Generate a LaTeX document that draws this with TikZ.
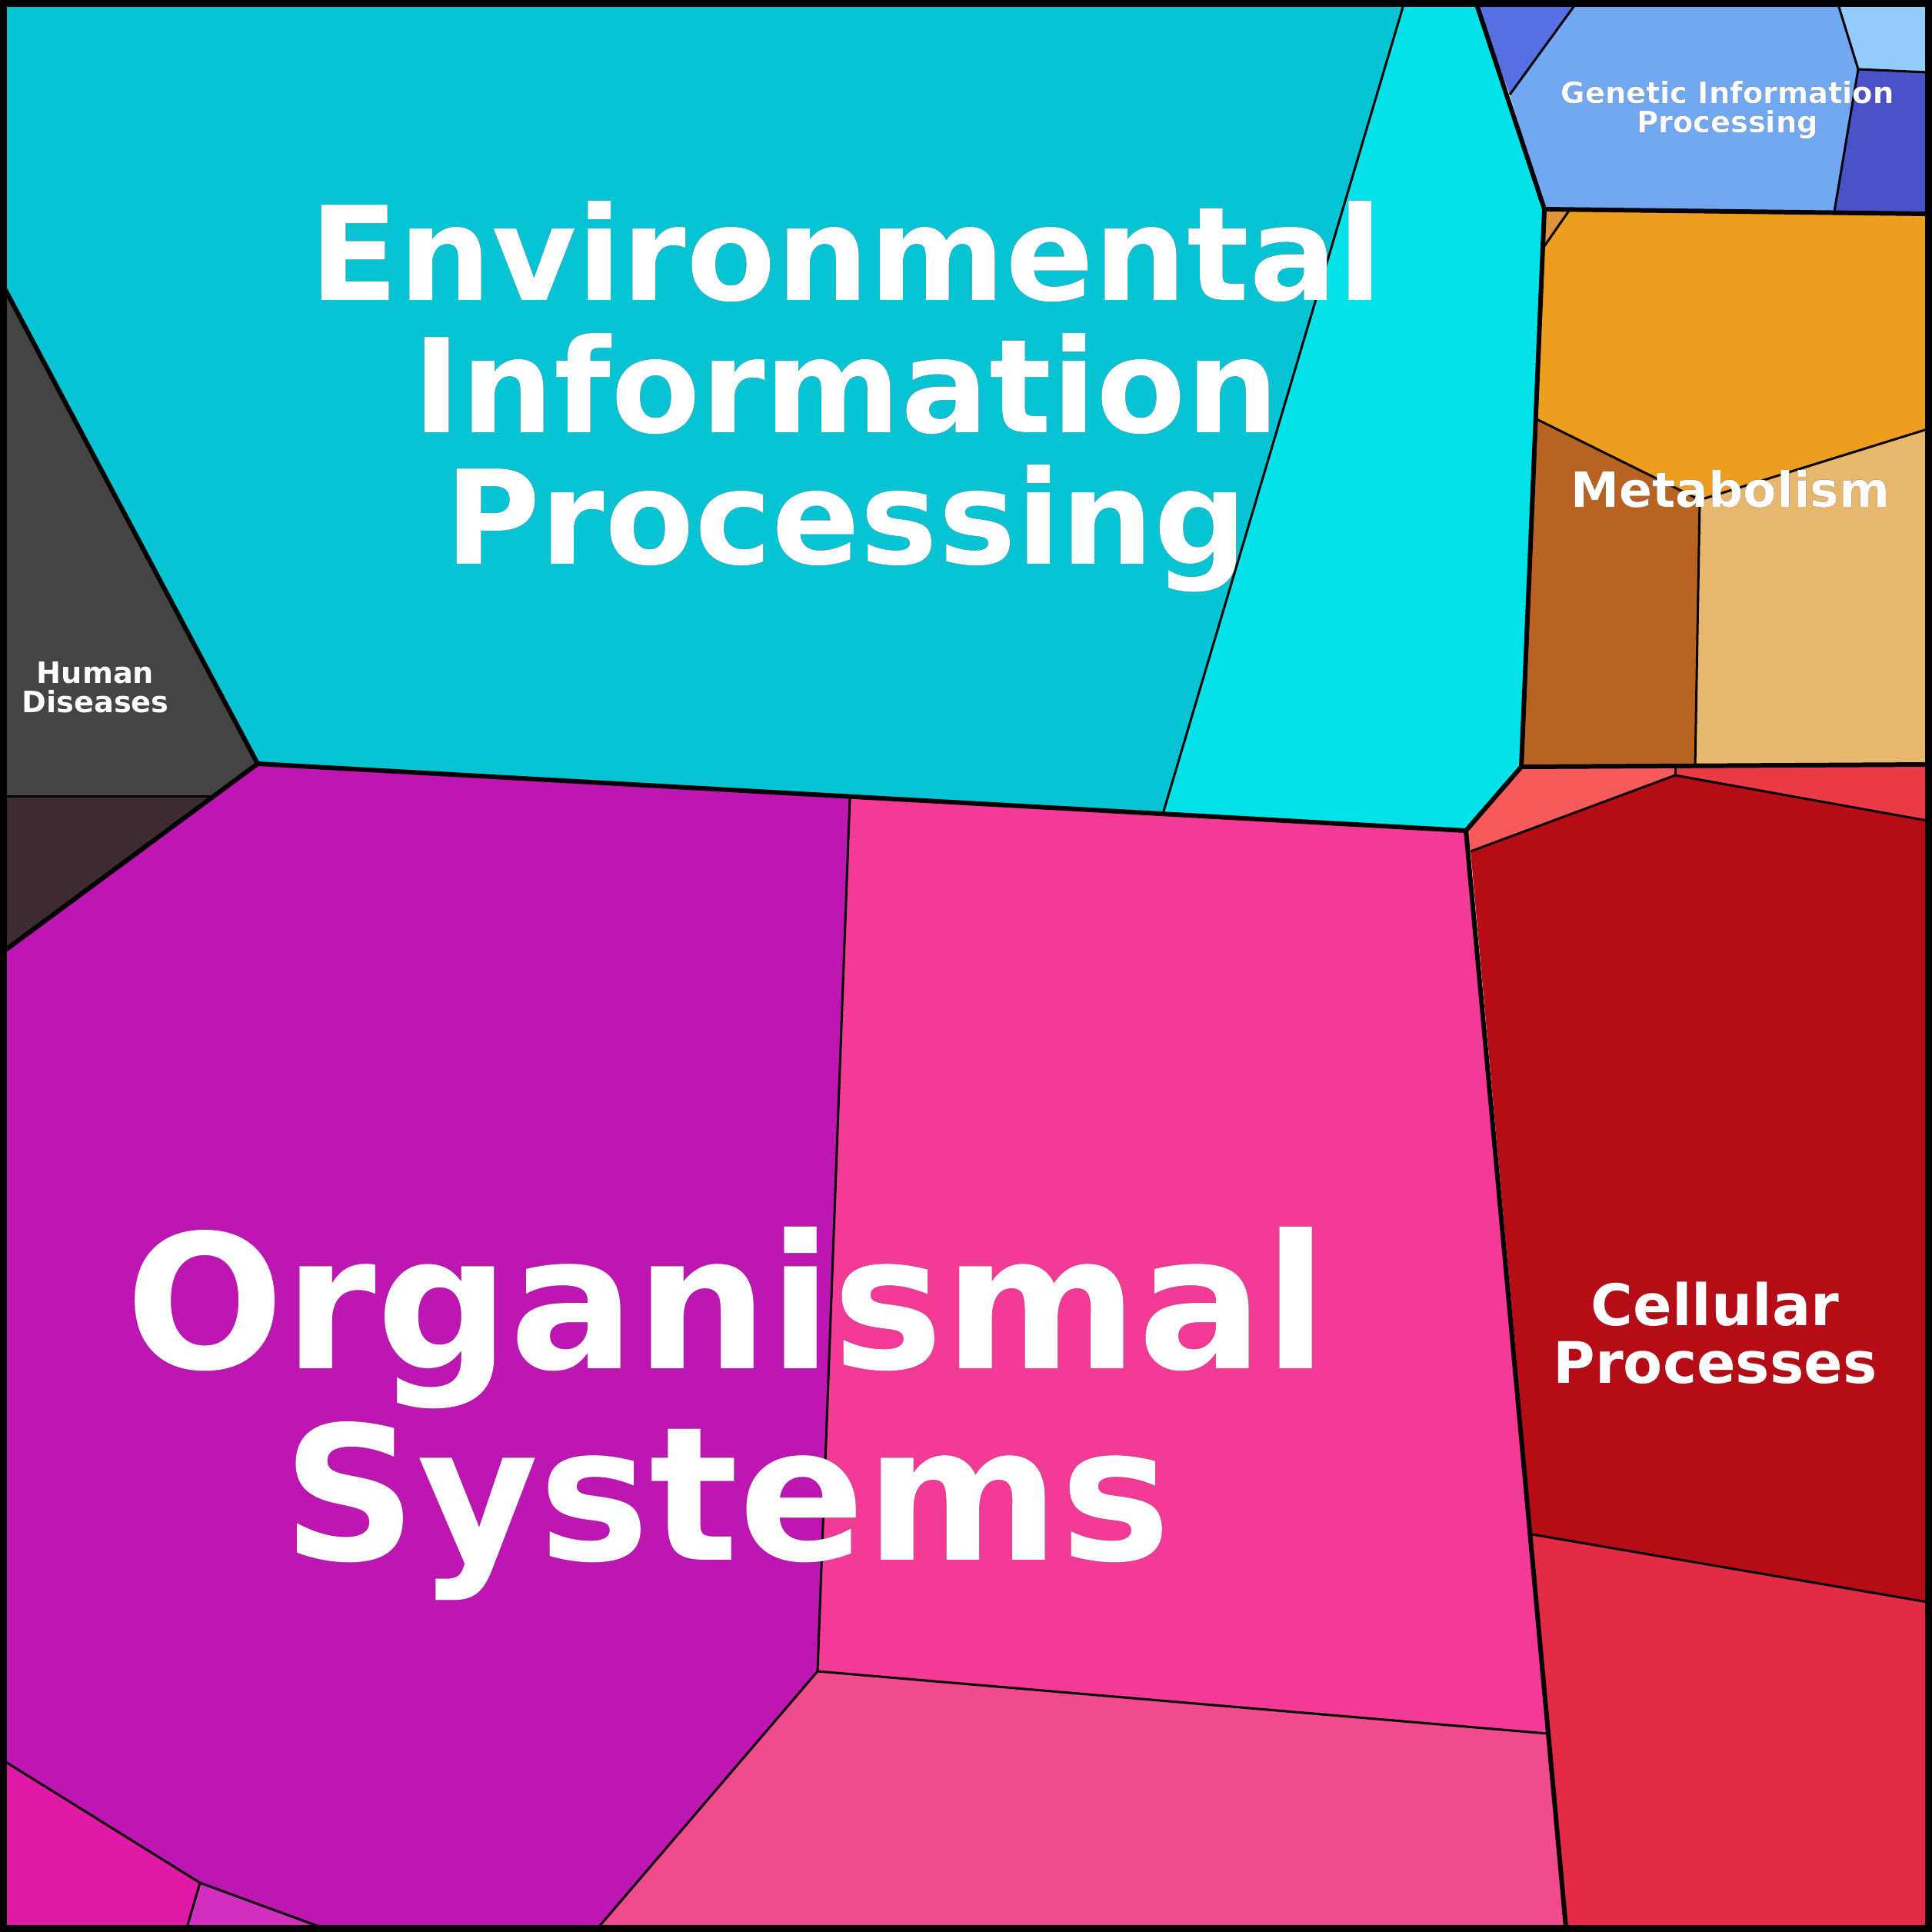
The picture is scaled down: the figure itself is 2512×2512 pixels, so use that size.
\documentclass[tikz,border=0pt]{standalone}
\usepackage{fontspec}
\setmainfont{DejaVu Sans}
\usepackage[outline]{contour}
\contourlength{0.4pt}
\definecolor{envA}{HTML}{06C4D4}
\definecolor{envB}{HTML}{03E1E9}
\definecolor{humA}{HTML}{454343}
\definecolor{humB}{HTML}{3E2A33}
\definecolor{orgA}{HTML}{BD16B2}
\definecolor{orgB}{HTML}{F43A97}
\definecolor{orgC}{HTML}{F04C8D}
\definecolor{orgD}{HTML}{E01AA6}
\definecolor{orgE}{HTML}{D22EBF}
\definecolor{celA}{HTML}{F75A5A}
\definecolor{celB}{HTML}{EA3A45}
\definecolor{celC}{HTML}{B60C15}
\definecolor{celD}{HTML}{E32B45}
\definecolor{metA}{HTML}{DE943F}
\definecolor{metB}{HTML}{EE9E1E}
\definecolor{metC}{HTML}{B86322}
\definecolor{metD}{HTML}{E8B76E}
\definecolor{genA}{HTML}{5670E4}
\definecolor{genB}{HTML}{72A8F2}
\definecolor{genC}{HTML}{93CCFB}
\definecolor{genD}{HTML}{4A52C8}
\tikzset{
  cell/.style={draw=black, line width=0.85pt, line join=round},
  major/.style={draw=black, line width=1.7pt, line join=round},
  lbl/.style={text=white, align=center, font=\bfseries, inner sep=0pt}
}
\newcommand{\ctxt}[1]{\contour{black}{#1}}
\begin{document}
\begin{tikzpicture}[x=0.01cm,y=-0.01cm]
\useasboundingbox (0,0) rectangle (2512,2512);
% environmental information processing
\fill[envA] (6,375) -- (6,6) -- (1825,6) -- (1512,1058) -- (335,993) -- cycle;
\fill[envB] (1825,6) -- (1920,6) -- (2008,272) -- (1978,997) -- (1906,1080) -- (1512,1058) -- cycle;
\draw[cell] (1825,6) -- (1512,1058);
% human diseases
\fill[humA] (6,375) -- (335,993) -- (278,1035) -- (6,1035) -- cycle;
\fill[humB] (6,1035) -- (278,1035) -- (6,1236) -- cycle;
\draw[cell] (6,1035) -- (278,1035);
% organismal systems
\fill[orgA] (6,1236) -- (335,993) -- (1105,1037) -- (1063,2173) -- (778,2506) -- (418,2506) -- (260,2448) -- (6,2290) -- cycle;
\fill[orgB] (1105,1037) -- (1906,1080) -- (2012,2254) -- (1063,2173) -- cycle;
\fill[orgC] (1063,2173) -- (2012,2254) -- (2036,2506) -- (778,2506) -- cycle;
\fill[orgD] (6,2290) -- (260,2448) -- (243,2506) -- (6,2506) -- cycle;
\fill[orgE] (260,2448) -- (418,2506) -- (243,2506) -- cycle;
\draw[cell] (1105,1037) -- (1063,2173) -- (778,2506);
\draw[cell] (1063,2173) -- (2012,2254);
\draw[cell] (6,2290) -- (260,2448) -- (418,2506);
\draw[cell] (260,2448) -- (243,2506);
% cellular processes
\fill[celA] (1906,1080) -- (1978,997) -- (2178,997) -- (2178,1008) -- (1912,1107) -- cycle;
\fill[celB] (2178,1008) -- (2178,997) -- (2506,994) -- (2506,1067) -- cycle;
\fill[celC] (1912,1107) -- (2178,1008) -- (2506,1067) -- (2506,2083) -- (1992,1995) -- cycle;
\fill[celD] (1992,1995) -- (2506,2083) -- (2506,2506) -- (2036,2506) -- cycle;
\draw[cell] (1912,1107) -- (2178,1008) -- (2506,1067);
\draw[cell] (2178,1008) -- (2178,997);
\draw[cell] (1992,1995) -- (2506,2083);
% metabolism
\fill[metA] (2008,272) -- (2040,274) -- (2008,320) -- cycle;
\fill[metB] (2040,274) -- (2506,278) -- (2506,558) -- (2210,650) -- (1998,545) -- (2008,320) -- cycle;
\fill[metC] (1998,545) -- (2210,650) -- (2204,997) -- (1978,997) -- cycle;
\fill[metD] (2210,650) -- (2506,558) -- (2506,994) -- (2204,997) -- cycle;
\draw[cell] (2040,274) -- (2008,320);
\draw[cell] (1998,545) -- (2210,650) -- (2506,558);
\draw[cell] (2210,650) -- (2204,997);
% genetic information processing
\fill[genA] (1920,6) -- (2048,6) -- (1963,123) -- cycle;
\fill[genB] (2048,6) -- (2390,6) -- (2416,90) -- (2385,275) -- (2008,272) -- (1963,123) -- cycle;
\fill[genC] (2390,6) -- (2506,6) -- (2506,94) -- (2416,90) -- cycle;
\fill[genD] (2416,90) -- (2506,94) -- (2506,278) -- (2385,275) -- cycle;
\draw[cell] (2048,6) -- (1963,123);
\draw[cell] (2390,6) -- (2416,90) -- (2385,275);
\draw[cell] (2416,90) -- (2506,94);
% major borders
\draw[major] (6,375) -- (335,993) -- (6,1236);
\draw[major] (335,993) -- (1906,1080) -- (1978,997) -- (2008,272) -- (1920,6);
\draw[major] (2008,272) -- (2506,278);
\draw[major] (1978,997) -- (2506,994);
\draw[major] (1906,1080) -- (2036,2506);
\draw[line width=2.8pt] (4,4) rectangle (2508,2508);
% labels
\node[lbl, font=\fontsize{48.3}{48.7}\selectfont\bfseries] (env) at (1100,516) {\ctxt{Environmental}\\\ctxt{Information}\\\ctxt{Processing}};
\node[lbl, font=\fontsize{69}{71}\selectfont\bfseries] (org) at (945,1838) {\ctxt{Organismal}\\\ctxt{Systems}};
\node[lbl, font=\fontsize{10.9}{10.9}\selectfont\bfseries] (hum) at (124,894) {\ctxt{Human}\\\ctxt{Diseases}};
\node[lbl, font=\fontsize{10.9}{10.9}\selectfont\bfseries] (gen) at (2246,143) {\ctxt{Genetic Information}\\\ctxt{Processing}};
\node[lbl, font=\fontsize{18}{18}\selectfont\bfseries] (met) at (2250,636) {\ctxt{Metabolism}};
\node[lbl, font=\fontsize{21.2}{21.4}\selectfont\bfseries] (cel) at (2230,1733) {\ctxt{Cellular}\\\ctxt{Processes}};
\end{tikzpicture}
\end{document}
